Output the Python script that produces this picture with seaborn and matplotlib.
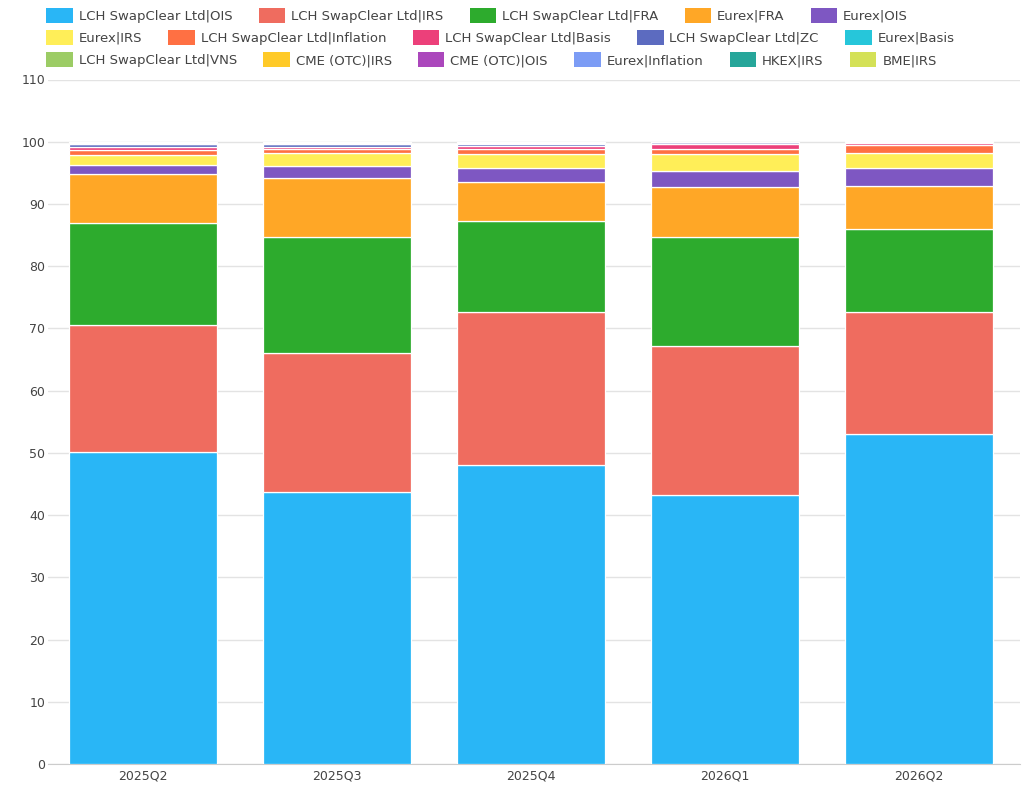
import numpy as np
import pandas as pd
import matplotlib
matplotlib.use('Agg')
import matplotlib.pyplot as plt
from matplotlib.patches import Patch
import seaborn as sns

quarters = ['2025Q2', '2025Q3', '2025Q4', '2026Q1', '2026Q2']

series_names = [
    'LCH SwapClear Ltd|OIS', 'LCH SwapClear Ltd|IRS', 'LCH SwapClear Ltd|FRA', 'Eurex|FRA', 'Eurex|OIS',
    'Eurex|IRS', 'LCH SwapClear Ltd|Inflation', 'LCH SwapClear Ltd|Basis', 'LCH SwapClear Ltd|ZC', 'Eurex|Basis',
    'LCH SwapClear Ltd|VNS', 'CME (OTC)|IRS', 'CME (OTC)|OIS', 'Eurex|Inflation', 'HKEX|IRS', 'BME|IRS',
]

lch_ois = [50.1, 43.7, 48.0, 43.3, 53.1]
lch_irs = [20.5, 22.3, 24.7, 23.8, 19.6]
lch_fra = [16.3, 18.7, 14.5, 17.6, 13.2]
eurex_fra = [7.9, 9.5, 6.4, 8.1, 7.0]
eurex_ois = [1.4, 1.9, 2.1, 2.5, 2.9]
eurex_irs = [1.7, 2.1, 2.3, 2.7, 2.4]
lch_infl = [0.8, 0.6, 0.8, 0.8, 1.3]
lch_basis = [0.5, 0.4, 0.5, 0.8, 0.3]
lch_zc = [0.4, 0.4, 0.4, 0.3, 0.15]
eurex_basis = [0.1, 0.1, 0.05, 0.02, 0.05]
lch_vns = [0.15, 0.15, 0.1, 0.03, 0.1]
cme_irs = [0.05, 0.05, 0.05, 0.02, 0.02]
cme_ois = [0.03, 0.04, 0.03, 0.01, 0.02]
eurex_infl = [0.03, 0.03, 0.03, 0.01, 0.02]
hkex_irs = [0.02, 0.01, 0.02, 0.005, 0.01]
bme_irs = [0.02, 0.01, 0.02, 0.005, 0.01]

series_values = [lch_ois, lch_irs, lch_fra, eurex_fra, eurex_ois, eurex_irs, lch_infl, lch_basis,
                 lch_zc, eurex_basis, lch_vns, cme_irs, cme_ois, eurex_infl, hkex_irs, bme_irs]

colors = ['#29b6f6', '#ef6c5f', '#2dab2d', '#ffa726', '#7e57c2',
          '#ffee58', '#ff7043', '#ec407a', '#5c6bc0', '#26c6da',
          '#9ccc65', '#ffca28', '#ab47bc', '#7c9cf5', '#26a69a', '#d4e157']

legend_rows = [5, 5, 6]

sns.set_style('white')
plt.rcParams['font.family'] = ['DejaVu Sans']

fig = plt.figure(figsize=(10.24, 7.95), dpi=100)
ax = fig.add_axes([0.047, 0.039, 0.949, 0.861])

bottom = np.zeros(len(quarters))
for name, vals, col in zip(series_names, series_values, colors):
    df = pd.DataFrame({'quarter': quarters, 'share': vals})
    sns.barplot(data=df, x='quarter', y='share', color=col, bottom=bottom, saturation=1,
                width=0.76, edgecolor='white', linewidth=0.9, ax=ax, zorder=3)
    bottom = bottom + np.array(vals)

ax.set_ylim(0, 110)
ax.set_xlim(-0.49, 4.52)
ax.set_yticks(range(0, 111, 10))
ax.yaxis.grid(True, color='#e3e3e3', linewidth=1, zorder=0)
ax.set_axisbelow(True)
ax.set_xlabel('')
ax.set_ylabel('')
for s in ['top', 'right', 'left']:
    ax.spines[s].set_visible(False)
ax.spines['bottom'].set_color('#cccccc')
ax.tick_params(axis='both', length=0, labelsize=9, colors='#444444', pad=4)
ax.tick_params(axis='y', pad=2)

handles = [Patch(facecolor=c, edgecolor='none', label=n) for n, c in zip(series_names, colors)]
start = 0
row_y = [0.997, 0.969, 0.941]
for i, n in enumerate(legend_rows):
    leg = fig.legend(handles=handles[start:start + n], loc='upper left',
                     bbox_to_anchor=(0.040, row_y[i]), ncol=n, frameon=False,
                     fontsize=9.5, handlelength=2.0, handleheight=1.4,
                     handletextpad=0.45, columnspacing=2.0, borderaxespad=0)
    for t in leg.get_texts():
        t.set_color('#444444')
    start += n

fig.savefig('out.png', dpi=100)
